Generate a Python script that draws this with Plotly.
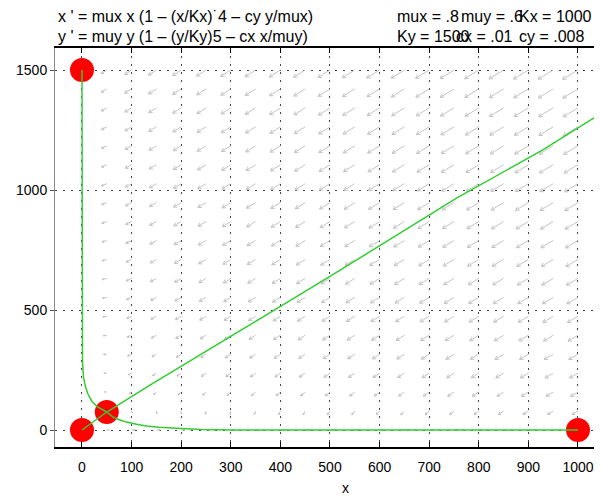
import numpy as np
import plotly.graph_objects as go

# parameters shown in the chart
mux, muy, Kx, Ky, cx, cy = 0.8, 0.6, 1000.0, 1500.0, 0.01, 0.008

# equilibrium points
eq_x = [0, 0, 50, 1000]
eq_y = [0, 1500, 75, 0]

# trajectories
traj1_x = [0, 0, 0, 1, 3, 7, 12, 20, 30, 40, 50]
traj1_y = [1500, 800, 340, 290, 220, 180, 150, 120, 98, 85, 75]
traj2_x = [50, 62, 75, 90, 110, 130, 155, 180, 210, 240, 270, 300, 1000]
traj2_y = [75, 55, 43, 33, 24, 17, 12, 8, 5, 2, 1, 0, 0]
traj3_x = [0, 25, 50, 137, 298, 359, 500, 756, 929, 1048, 1100]
traj3_y = [0, 37, 75, 187, 389, 466, 640, 967, 1167, 1321, 1385]

# vector-field sample grid
field_x = list(range(50, 1001, 50))
field_y = [1500 * j / 19 for j in range(20)]

x_ticks = [0, 100, 200, 300, 400, 500, 600, 700, 800, 900, 1000]
y_ticks = [0, 500, 1000, 1500]

# axis geometry (page is offset by the 8px body margin)
OFF = 8
W, H = 602, 500
L = 55 - OFF
T = 48 - OFF
B = H - (447 - OFF)
pw, ph = W - L, H - T - B
xr = [-54.4, -54.4 + pw / 0.496]
yr = [-70.8, -70.8 + ph / 0.24]
sx = pw / (xr[1] - xr[0])
sy = ph / (yr[1] - yr[0])

def deriv(x, y):
    dx = mux * x * (1 - x / Kx - cy * y / mux)
    dy = muy * y * (1 - y / Ky - cx * x / muy)
    return dx, dy

mags = []
pts = []
for xv in field_x:
    for yv in field_y:
        dx, dy = deriv(xv, yv)
        px, py = dx * sx, dy * sy
        m = np.hypot(px, py)
        pts.append((xv, yv, px, py, m))
        mags.append(m)
mmax = max(mags)
ax_x, ax_y = [], []
for xv, yv, px, py, m in pts:
    if m == 0:
        continue
    ln = 18 * (m / mmax) ** 0.33
    ux, uy = px / m, py / m
    tx, ty = xv + ln * ux / sx, yv + ln * uy / sy
    ax_x += [xv, tx, None]
    ax_y += [yv, ty, None]
    hl = min(4.0, 0.45 * ln)
    for ang in (np.pi * 5 / 6, -np.pi * 5 / 6):
        ca, sa = np.cos(ang), np.sin(ang)
        hx = ux * ca - uy * sa
        hy = ux * sa + uy * ca
        ax_x += [tx, tx + hl * hx / sx, None]
        ax_y += [ty, ty + hl * hy / sy, None]

fig = go.Figure()
fig.add_trace(go.Scatter(x=ax_x, y=ax_y, mode="lines",
                         line=dict(color="#c4c4c4", width=1), hoverinfo="skip"))
fig.add_trace(go.Scatter(x=eq_x, y=eq_y, mode="markers",
                         marker=dict(color="#ff0000", size=24, line=dict(width=0))))
for tx_, ty_ in [(traj1_x, traj1_y), (traj2_x, traj2_y), (traj3_x, traj3_y)]:
    fig.add_trace(go.Scatter(x=tx_, y=ty_, mode="lines",
                             line=dict(color="#33cc33", width=1.5)))

font = dict(family="Liberation Sans, Arial, sans-serif", size=14, color="#000")
tfont = dict(family="Liberation Sans, Arial, sans-serif", size=16, color="#000")

def px2paper(px, py):
    # px, py in page pixels
    return (px - OFF - L) / pw, (H - B - (py - OFF)) / ph

anns = []
for text, px, py in [
    ("x ' = mux x (1 \u2013 (x/Kx)\u02d94 \u2013 cy y/mux)", 56, 17),
    ("y ' = muy y (1 \u2013 (y/Ky)5 \u2013 cx x/muy)", 56, 37),
    ("mux = .8", 395, 17), ("muy = .6", 459, 17), ("Kx = 1000", 517, 17),
    ("Ky = 1500", 395, 37), ("cx = .01", 454, 37), ("cy = .008", 517, 37),
]:
    xp, yp = px2paper(px, py)
    anns.append(dict(text=text, x=xp, y=yp, xref="paper", yref="paper",
                     xanchor="left", yanchor="middle", showarrow=False, font=tfont))
xp, yp = px2paper(345, 488)
anns.append(dict(text="x", x=xp, y=yp, xref="paper", yref="paper",
                 xanchor="center", yanchor="middle", showarrow=False, font=font))

fig.update_layout(
    width=W, height=H, margin=dict(l=L, r=0, t=T, b=B, autoexpand=False),
    paper_bgcolor="white", plot_bgcolor="white", showlegend=False,
    annotations=anns, font=font,
    xaxis=dict(range=xr, tickvals=x_ticks, ticks="inside", ticklen=5,
               tickcolor="#000", showline=True, linecolor="#000", linewidth=1.5,
               mirror="ticks", showgrid=True, gridcolor="#444", gridwidth=1,
               griddash="2px,6px", zeroline=False, tickfont=font,
               ticklabelstandoff=6, automargin=False),
    yaxis=dict(range=yr, tickvals=y_ticks, ticks="outside", ticklen=4,
               tickcolor="#555", showline=True, linecolor="#888", linewidth=1,
               mirror=False, showgrid=True, gridcolor="#444", gridwidth=1,
               griddash="2px,6px", zeroline=False, tickfont=font,
               automargin=False),
)

fig.write_html("out.html")
